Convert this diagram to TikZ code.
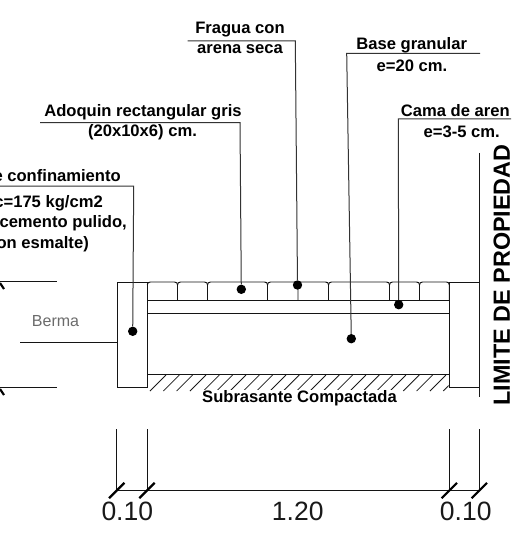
\documentclass[tikz,border=0pt]{standalone}
\usepackage{fontspec}
\setmainfont{Liberation Sans}
\begin{document}
\begin{tikzpicture}[x=1pt,y=-1pt,
  ln/.style={line width=0.95pt,draw=black!92},
  leader/.style={line width=1pt,draw=black!80},
  dotm/.style={circle,fill=black,inner sep=0pt,minimum size=9.4pt},
  lab/.style={font=\fontsize{16.6}{18}\selectfont\bfseries,inner sep=0pt,text=black,yshift=-1.4pt},
  dim/.style={font=\fontsize{26.5}{28}\selectfont,inner sep=0pt,text=black!90,yshift=-1pt},
  tick/.style={line width=2.2pt,draw=black}]
\useasboundingbox (0,0) rectangle (511,540);
\begin{scope}
\clip (0,0) rectangle (511,540);
% hatch
\begin{scope}
\clip (147,374) rectangle (448.5,392);
\foreach \k in {0,...,22}{
  \draw[line width=0.8pt,black!90] ({150+13.33*\k},391) -- ({166+13.33*\k},375);
}
\end{scope}
\node[lab,fill=white,inner sep=0pt,anchor=center] (sub) at (299.5,396.5) {Subrasante Compactada};
% boxes
\node[ln,draw,minimum width=30.4pt,minimum height=105.2pt,inner sep=0pt,anchor=north west] (lbox) at (116.7,281.8) {};
\node[ln,draw,minimum width=30pt,minimum height=105.2pt,inner sep=0pt,anchor=north west] (rbox) at (449.3,281.8) {};
% layers
\draw[ln] (147,300.2) -- (449.3,300.2);
\draw[ln] (147,313.5) -- (449.3,313.5);
\draw[ln] (147,374.5) -- (449.3,374.5);
% pavers
\foreach \a/\b in {147.3/177.5,177.5/207.5,207.5/267.5,267.5/298,298/328.5,328.5/389.5,389.5/419.5,419.5/449.3}{
  \draw[ln] (\a,285) .. controls (\a,283) and (\a+1,282) .. (\a+3,282) -- (\b-3,282) .. controls (\b-1,282) and (\b,283) .. (\b,285) -- (\b,300);
}
% property line
\coordinate (pt) at (479.5,153);
\coordinate (pb) at (479.5,397);
\draw[line width=1.3pt,black!90] (pt) -- (pb);
\node[font=\fontsize{23.4}{25}\selectfont\bfseries,inner sep=0pt,rotate=90,anchor=center] (lim) at (501.8,275) {LIMITE DE PROPIEDAD};
% road side
\coordinate (b1a) at (0,281.5); \coordinate (b1b) at (56.7,281.5);
\coordinate (b2a) at (0,387.5); \coordinate (b2b) at (56.7,387.5);
\coordinate (bm) at (20,342.5);
\draw[ln] (b1a) -- (b1b);
\draw[ln] (b2a) -- (b2b);
\draw[ln] (bm) -- (lbox.west |- bm);
\draw[tick] (0,283) -- (4,289);
\draw[tick] (0,389) -- (4,395);
\node[font=\fontsize{16}{18}\selectfont,text=black!58,inner sep=0pt] (berma) at (55.5,321) {Berma};
% dots and leaders
\node[dotm] (d1) at (132.7,331.3) {};
\node[dotm] (d2) at (241.3,289.3) {};
\node[dotm] (d3) at (297.5,285) {};
\node[dotm] (d4) at (351.3,338.7) {};
\node[dotm] (d5) at (398.7,304.7) {};
\coordinate (l1) at (0,186); \coordinate (c1) at (133.7,186);
\coordinate (l2) at (40,122.7); \coordinate (c2) at (240,122.7);
\coordinate (l3) at (187.7,41); \coordinate (c3) at (295.3,41);
\coordinate (l4) at (480,53.3); \coordinate (c4) at (346.7,53.3);
\coordinate (l5) at (511,119); \coordinate (c5) at (398.3,119);
\draw[leader] (l1) -- (c1) -- (d1);
\draw[leader] (l2) -- (c2) -- (d2);
\draw[leader] (l3) -- (c3) -- (d3);
\draw[leader] (l4) -- (c4) -- (d4);
\draw[leader] (l5) -- (c5) -- (d5);
% labels
\node[lab] (t1) at (240,28) {Fragua con};
\node[lab] (t2) at (240,48) {arena seca};
\node[lab] (t3) at (411.7,44) {Base granular};
\node[lab] (t4) at (412,64) {e=20 cm.};
\node[lab,anchor=west] (t5) at (400.7,109) {Cama de aren};
\node[lab] (t6) at (461.7,130) {e=3-5 cm.};
\node[lab] (t7) at (143,111) {Adoquin rectangular gris};
\node[lab] (t8) at (142.5,131) {(20x10x6) cm.};
\node[lab,anchor=east] (t9) at (121,174) {e confinamiento};
\node[lab,anchor=east] (t10) at (103,202) {c=175 kg/cm2};
\node[lab,anchor=east] (t11) at (127,222) {cemento pulido,};
\node[lab,anchor=east] (t12) at (89,243) {on esmalte)};
% dimensions
\coordinate (v1a) at (116.7,429.3); \coordinate (v1b) at (116.7,490.5);
\coordinate (v2a) at (147,429.3); \coordinate (v2b) at (147,490.5);
\coordinate (v3a) at (449.3,429.3); \coordinate (v3b) at (449.3,490.5);
\coordinate (v4a) at (479.3,429.3); \coordinate (v4b) at (479.3,490.5);
\draw[ln] (v1a) -- (v1b);
\draw[ln] (v2a) -- (v2b);
\draw[ln] (v3a) -- (v3b);
\draw[ln] (v4a) -- (v4b);
\draw[ln] (v1b) -- (v4b);
\foreach \c in {v1b,v2b,v3b,v4b}{
  \draw[tick] ([shift={(-7.7,7.7)}]\c) -- ([shift={(7.7,-7.7)}]\c);
}
\node[dim] (d10a) at (127.3,510) {0.10};
\node[dim] (d120) at (297.7,510) {1.20};
\node[dim] (d10b) at (465.7,510) {0.10};
\end{scope}
\end{tikzpicture}
\end{document}
